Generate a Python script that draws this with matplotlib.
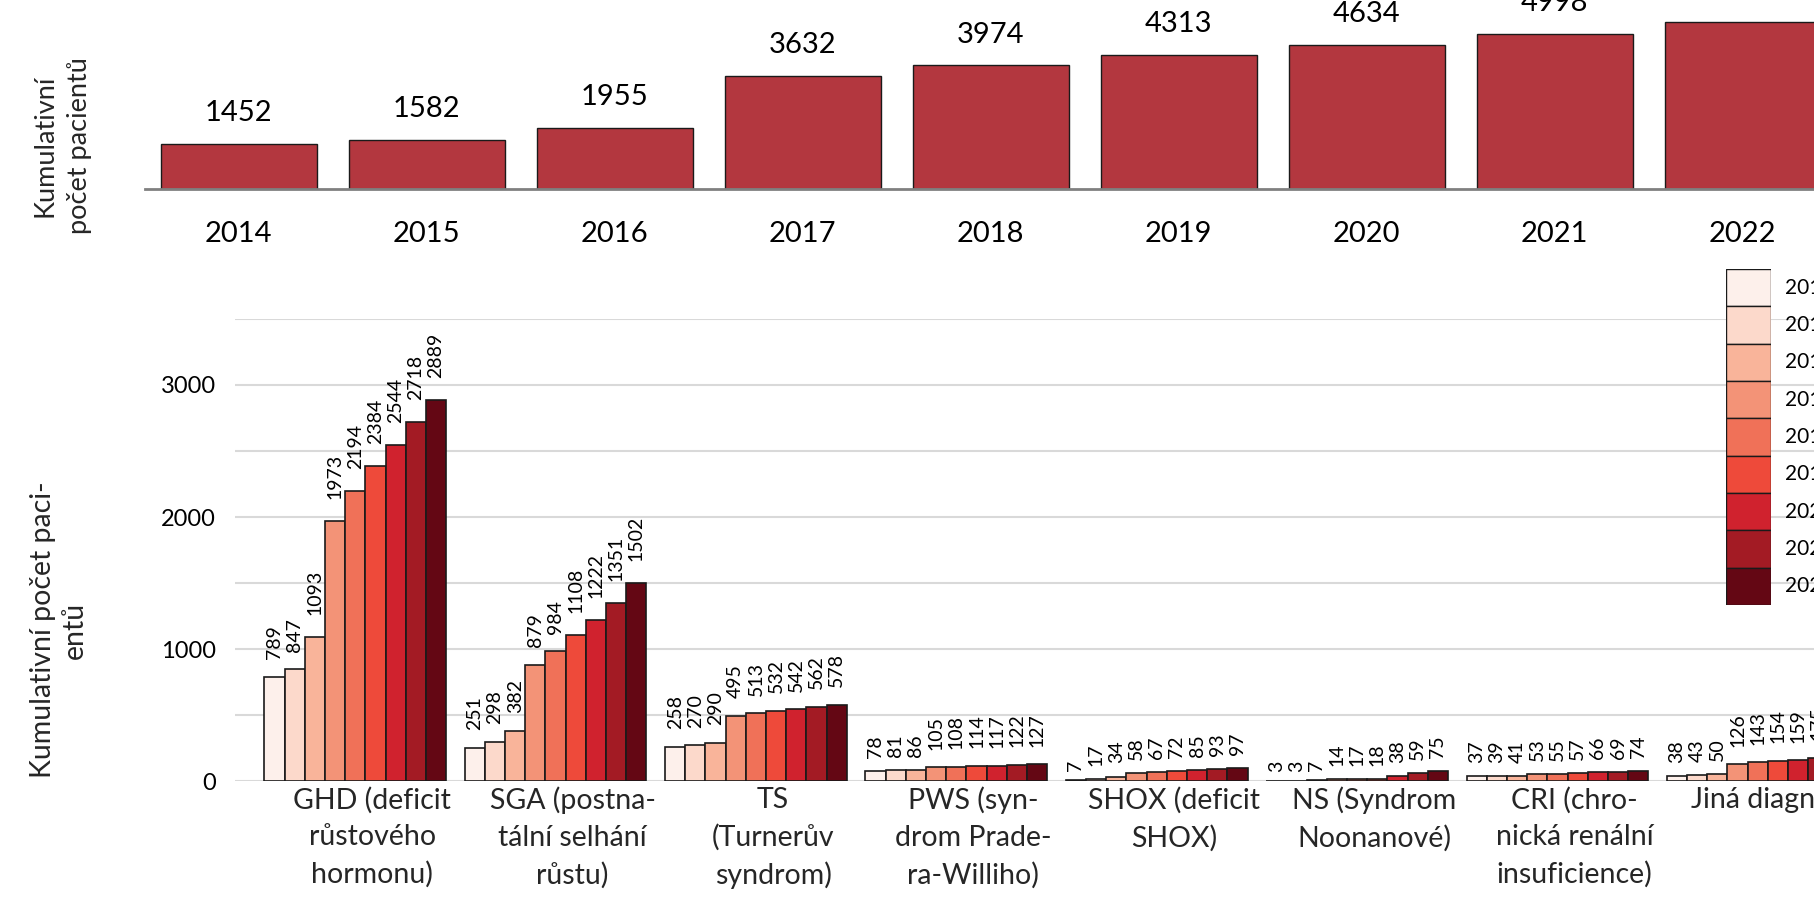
import numpy as np
import matplotlib.pyplot as plt

plt.rcParams['font.family'] = ['Lato', 'DejaVu Sans']

# cumulative totals per year (top chart)
years = ['2014', '2015', '2016', '2017', '2018', '2019', '2020', '2021', '2022']
totals = [1452, 1582, 1955, 3632, 3974, 4313, 4634, 4998, 5374]

# per diagnosis, one value per year (bottom chart)
categories = ['GHD (deficit\nrůstového\nhormonu)',
              'SGA (postna-\ntální selhání\nrůstu)',
              'TS\n(Turnerův\nsyndrom)',
              'PWS (syn-\ndrom Prade-\nra-Williho)',
              'SHOX (deficit\nSHOX)',
              'NS (Syndrom\nNoonanové)',
              'CRI (chro-\nnická renální\ninsuficience)',
              'Jiná diagnóza']
ghd = [789, 847, 1093, 1973, 2194, 2384, 2544, 2718, 2889]
sga = [251, 298, 382, 879, 984, 1108, 1222, 1351, 1502]
ts = [258, 270, 290, 495, 513, 532, 542, 562, 578]
pws = [78, 81, 86, 105, 108, 114, 117, 122, 127]
shox = [7, 17, 34, 58, 67, 72, 85, 93, 97]
ns = [3, 3, 7, 14, 17, 18, 38, 59, 75]
cri = [37, 39, 41, 53, 55, 57, 66, 69, 74]
other = [38, 43, 50, 126, 143, 154, 159, 175, 190]

values = np.array([ghd, sga, ts, pws, shox, ns, cri, other])

colors = ['#fdf0eb', '#fcd9cb', '#f9b49a', '#f39377', '#f07158',
          '#ee4a3a', '#d0222e', '#a31b24', '#640714']

fig = plt.figure(figsize=(18.14, 9.15), dpi=100)

# ---- top chart: total cumulative patients
ax1 = fig.add_axes([0.0797, 0.7939, 0.9328, 0.2033])
x = np.arange(len(years))
ax1.bar(x, totals, width=0.83, color='#B3373F', edgecolor='#1a1a1a', linewidth=1)
for xi, v in zip(x, totals):
    ax1.annotate(str(v), (xi, v), xytext=(0, 22), textcoords='offset points',
                 ha='center', va='center', fontsize=21)
ax1.set_xlim(-0.5, 8.5)
ax1.set_ylim(0, 6000)
for s in ['top', 'left', 'right']:
    ax1.spines[s].set_visible(False)
ax1.spines['bottom'].set_color('#808080')
ax1.spines['bottom'].set_linewidth(2)
ax1.set_yticks([])
ax1.set_xticks(x, years)
ax1.tick_params(axis='x', length=0, pad=23.5, labelsize=21)

fig.text(62 / 1814, 1 - 146 / 915, 'Kumulativní\npočet pacientů', rotation=90,
         ha='center', va='center', multialignment='center', fontsize=19.5,
         linespacing=1.45, color='#262626')

# ---- bottom chart: per diagnosis
ax2 = fig.add_axes([235 / 1814, 134 / 915, 1643 / 1814, 462 / 915])
idx = np.arange(len(categories))
w = 0.1008
for j in range(len(years)):
    xs = idx + (j - 4) * w
    ax2.bar(xs, values[:, j], width=w, color=colors[j], edgecolor='#1a1a1a',
            linewidth=1.2, label=years[j])
    for xv, v in zip(xs, values[:, j]):
        gap = 3 + 3.2 * len(str(v))
        ax2.annotate(str(v), (xv, v), xytext=(0, gap), textcoords='offset points',
                     ha='center', va='bottom', rotation=90, fontsize=14)

ax2.set_xlim(-0.6, 7.6)
ax2.set_ylim(0, 3500)
yt = np.arange(0, 3501, 500)
ax2.set_yticks(yt, [str(v) if v % 1000 == 0 else '' for v in yt])
ax2.grid(axis='y', color='#D9D9D9', linewidth=1.5)
ax2.set_axisbelow(True)
for s in ax2.spines.values():
    s.set_visible(False)
ax2.set_xticks(idx + 0.085, categories)
ax2.tick_params(axis='x', length=0, pad=4, labelsize=20.5, labelcolor='#262626')
ax2.tick_params(axis='y', length=0, pad=14, labelsize=17)
for lbl in ax2.get_xticklabels():
    lbl.set_linespacing(1.5)

fig.text(59 / 1814, 1 - 630 / 915, 'Kumulativní počet paci-\nentů', rotation=90,
         ha='center', va='center', multialignment='center', fontsize=20.5,
         linespacing=1.25, color='#262626')

# ---- legend as stacked swatches
lax = fig.add_axes([1726 / 1814, 310 / 915, 44.7 / 1814, 336 / 915])
pos = np.arange(len(years))[::-1]
lax.barh(pos, [1] * len(years), height=1, left=0, color=colors,
         edgecolor='#1a1a1a', linewidth=1)
for p, yr in zip(pos, years):
    lax.text(1.32, p, yr, ha='left', va='center', fontsize=15, clip_on=False)
lax.set_xlim(0, 1)
lax.set_ylim(-0.5, len(years) - 0.5)
lax.axis('off')

fig.savefig('out.png', dpi=100)
